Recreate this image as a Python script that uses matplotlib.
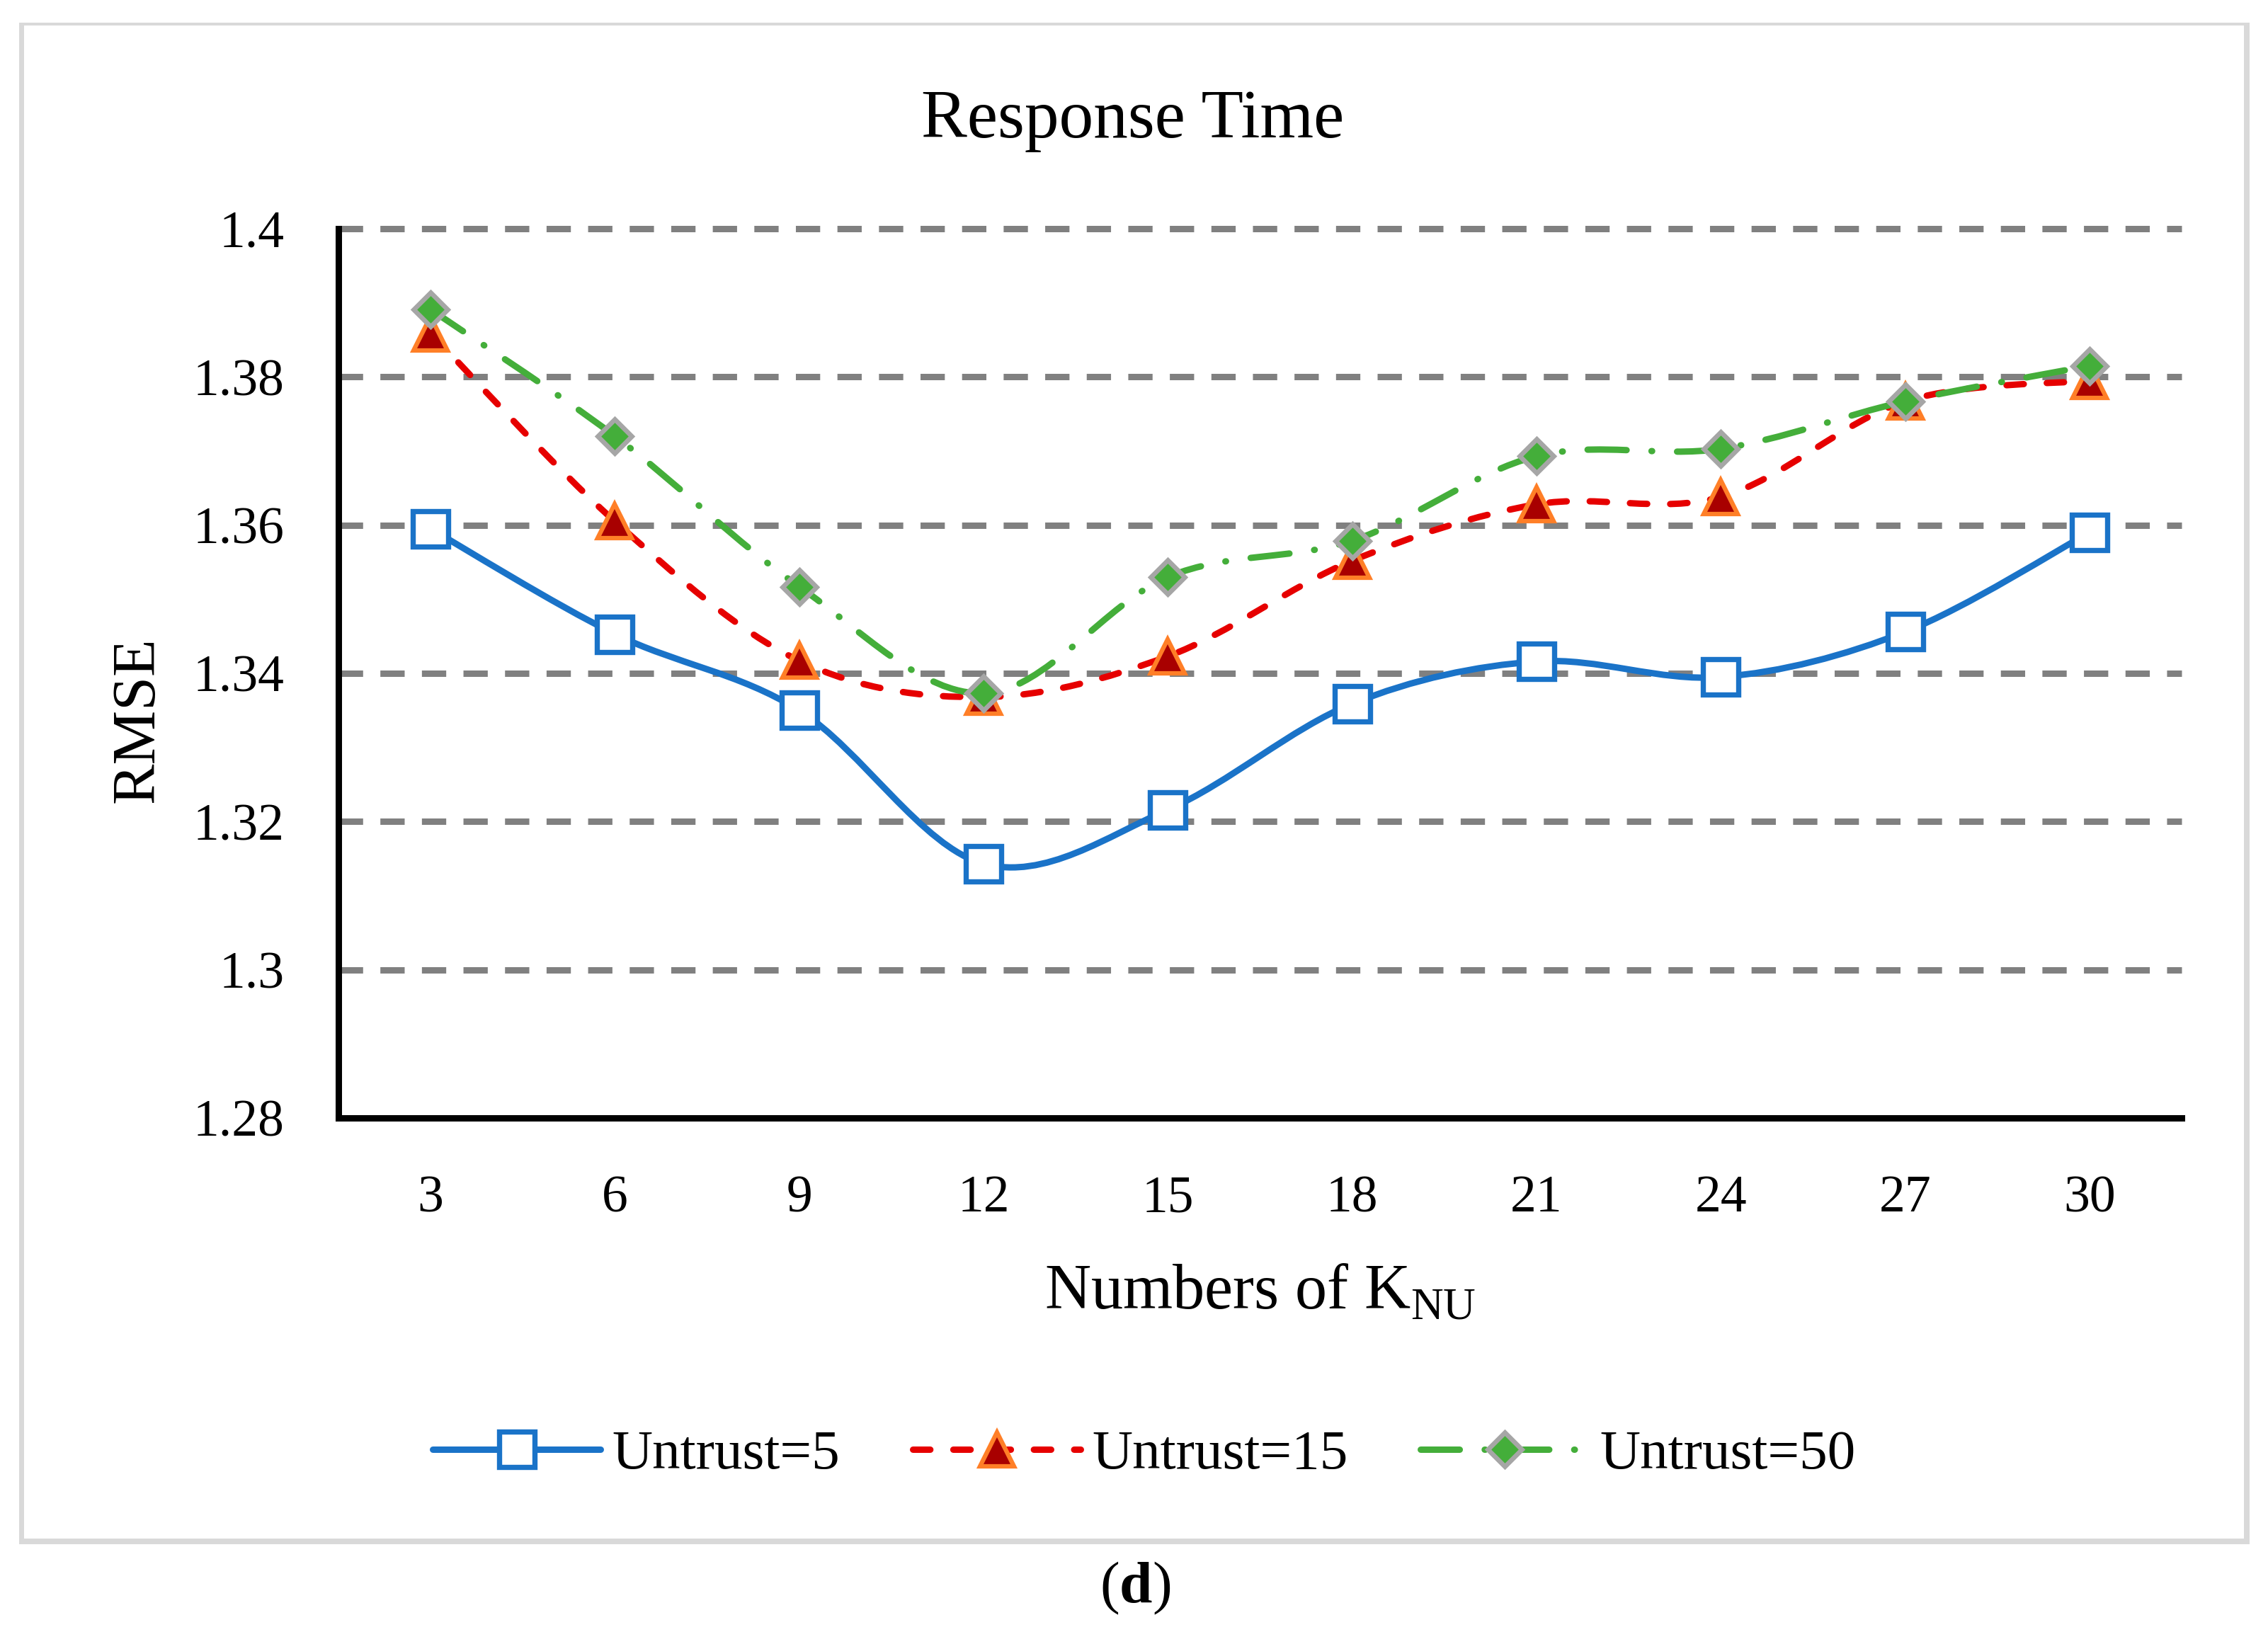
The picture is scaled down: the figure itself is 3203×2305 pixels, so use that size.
import numpy as np
import matplotlib
matplotlib.use("Agg")
import matplotlib.pyplot as plt
from matplotlib.path import Path
from matplotlib.patches import PathPatch, Rectangle
from matplotlib.lines import Line2D

# ---- data ----
k_values = [3, 6, 9, 12, 15, 18, 21, 24, 27, 30]
untrust5 = [1.3595, 1.3453, 1.3350, 1.3143, 1.3216, 1.3359, 1.3416, 1.3395, 1.3456, 1.3590]
untrust15 = [1.3859, 1.3605, 1.3417, 1.3368, 1.3423, 1.3552, 1.3628, 1.3638, 1.3767, 1.3795]
untrust50 = [1.3891, 1.3720, 1.3517, 1.3373, 1.3530, 1.3579, 1.3693, 1.3703, 1.3767, 1.3815]
series_labels = ["Untrust=5", "Untrust=15", "Untrust=50"]
y_ticks = [1.28, 1.30, 1.32, 1.34, 1.36, 1.38, 1.40]
y_tick_labels = ["1.28", "1.3", "1.32", "1.34", "1.36", "1.38", "1.4"]

plt.rcParams['font.family'] = ['Liberation Serif', 'DejaVu Serif']
plt.rcParams['mathtext.fontset'] = 'custom'
plt.rcParams['mathtext.rm'] = 'Liberation Serif'
plt.rcParams['mathtext.bf'] = 'Liberation Serif:bold'

W, H = 3203, 2305
fig = plt.figure(figsize=(W / 100, H / 100), dpi=100)
fig.patch.set_facecolor('white')

# outer frame (decoration)
fc = '#d9d9d9'
def frame_bar(x0, y0, x1, y1):
    fig.patches.append(Rectangle((x0 / W, 1 - y1 / H), (x1 - x0) / W, (y1 - y0) / H,
                                 transform=fig.transFigure, facecolor=fc, edgecolor='none', zorder=0))
frame_bar(27, 32, 3177, 36)
frame_bar(27, 32, 34, 2181)
frame_bar(3169, 32, 3177, 2181)
frame_bar(27, 2173, 3177, 2181)

ax_l, ax_r, ax_t, ax_b = 478, 3081, 323, 1579
ax = fig.add_axes([ax_l / W, 1 - ax_b / H, (ax_r - ax_l) / W, (ax_b - ax_t) / H])
ax.set_facecolor('none')

xs = np.arange(len(k_values)) + 0.5
ax.set_xlim(0, len(k_values))
ax.set_ylim(1.28, 1.40)
ax.set_xticks(xs)
ax.set_xticklabels([str(k) for k in k_values])
ax.set_yticks(y_ticks)
ax.set_yticklabels(y_tick_labels)
ax.tick_params(axis='both', length=0, labelsize=53)
ax.tick_params(axis='y', pad=55)
ax.tick_params(axis='x', pad=58)

ax.set_axisbelow(True)
ax.yaxis.grid(True, color='#808080', linewidth=6.5, linestyle=(0, (3.8, 2.7)))
ax.xaxis.grid(False)
for gl in ax.get_ygridlines():
    gl.set_clip_on(False)
for s in ['top', 'right']:
    ax.spines[s].set_visible(False)
for s in ['left', 'bottom']:
    ax.spines[s].set_color('black')
    ax.spines[s].set_linewidth(6.5)
    ax.spines[s].set_zorder(2.5)


def smooth_path(x, y):
    P = np.column_stack([x, y])
    n = len(P)
    verts = [P[0]]
    codes = [Path.MOVETO]
    for i in range(n - 1):
        pm = P[max(i - 1, 0)]
        p2 = P[min(i + 2, n - 1)]
        c1 = P[i] + (P[i + 1] - pm) / 6.0
        c2 = P[i + 1] - (p2 - P[i]) / 6.0
        verts += [c1, c2, P[i + 1]]
        codes += [Path.CURVE4] * 3
    return Path(np.array(verts), codes)


LW = 6.5
styles = [
    dict(color='#1a73c8', ls='solid', marker='s', ms=36, mfc='white', mec='#1a73c8', mew=5.3),
    dict(color='#e60000', ls=(0, (2.7, 3.6)), marker='^', ms=35, mfc='#a80000', mec='#ff7f27', mew=4.5),
    dict(color='#44ae3a', ls=(0, (6.1, 3.9, 0.1, 3.9)), marker='D', ms=24, mfc='#44ae3a', mec='#a6a6a6', mew=4.8),
]
series = [untrust5, untrust15, untrust50]
handles = []
for i, (vals, st, lab) in enumerate(zip(series, styles, series_labels)):
    z = 3 + i
    patch = PathPatch(smooth_path(xs, np.array(vals)), fill=False, edgecolor=st['color'],
                      linewidth=LW, linestyle=st['ls'], zorder=z, capstyle='round')
    ax.add_patch(patch)
    ax.plot(xs, vals, linestyle='none', marker=st['marker'], markersize=st['ms'],
            markerfacecolor=st['mfc'], markeredgecolor=st['mec'], markeredgewidth=st['mew'],
            zorder=z + 0.5, clip_on=False)
    handles.append(Line2D([], [], color=st['color'], linewidth=LW, linestyle=st['ls'],
                          dash_capstyle='round', solid_capstyle='round',
                          marker=st['marker'], markersize=st['ms'], markerfacecolor=st['mfc'],
                          markeredgecolor=st['mec'], markeredgewidth=st['mew'], label=lab))

fig.legend(handles=handles, loc='center', bbox_to_anchor=(0.5045, 1 - 2055 / H), ncol=3,
           frameon=False, fontsize=57, handlelength=3.0, handletextpad=0.2,
           columnspacing=1.3, numpoints=1)

fig.text(0.4995, 1 - 194 / H, "Response Time", ha='center', va='baseline', fontsize=70)
fig.text(1780 / W, 1 - 1848 / H, r"Numbers of K$_{\mathrm{NU}}$", ha='center', va='baseline', fontsize=65)
fig.text(196 / W, 1 - 1017 / H, "RMSE", ha='center', va='center', rotation=90, fontsize=62)
fig.text(1603 / W, 1 - 2263 / H, r"($\mathbf{d}$)", ha='center', va='baseline', fontsize=60)

fig.savefig("out.png", dpi=100, facecolor='white')
